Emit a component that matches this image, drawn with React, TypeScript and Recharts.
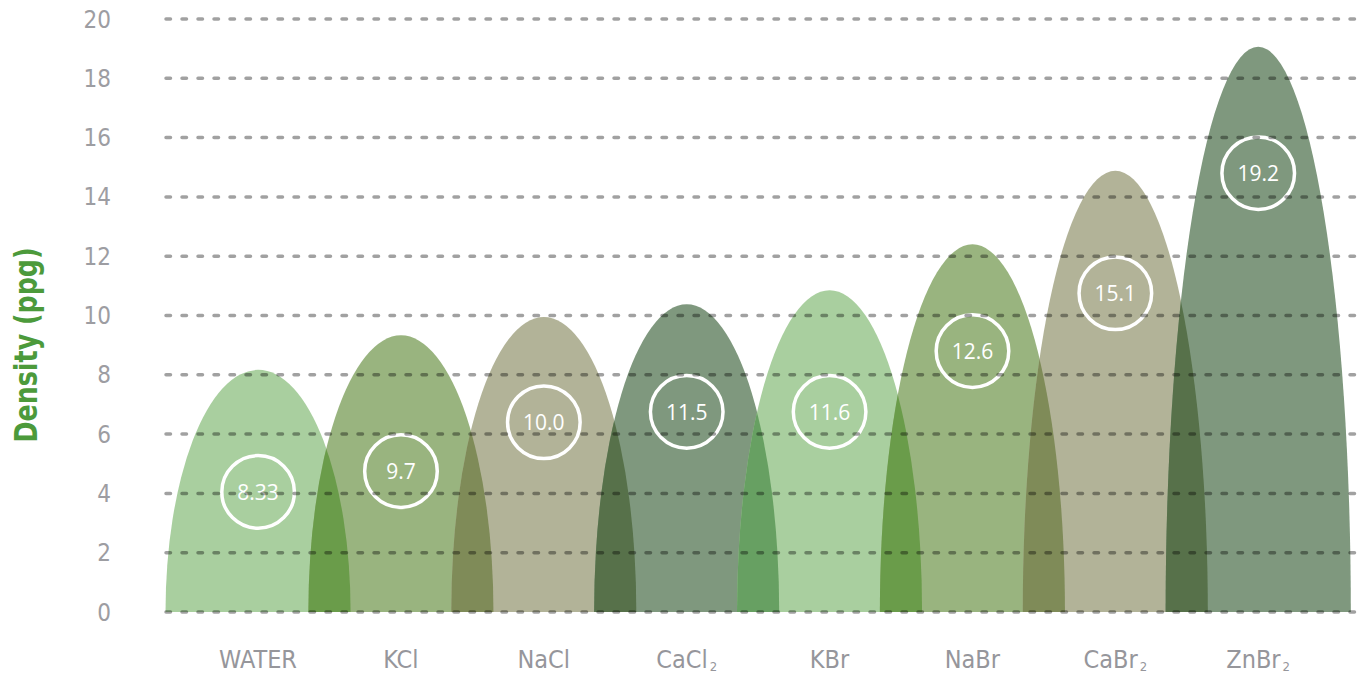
import React from 'react';
import { BarChart, Bar, XAxis, YAxis, ReferenceLine } from 'recharts';

const categories = ['WATER', 'KCl', 'NaCl', 'CaCl2', 'KBr', 'NaBr', 'CaBr2', 'ZnBr2'];
const tickMain = ['WATER', 'KCl', 'NaCl', 'CaCl', 'KBr', 'NaBr', 'CaBr', 'ZnBr'];
const tickSub = ['', '', '', '2', '', '', '2', '2'];
const archHeights = [8.17, 9.33, 9.95, 10.38, 10.85, 12.4, 14.88, 19.06];
const densityLabels = ['8.33', '9.7', '10.0', '11.5', '11.6', '12.6', '15.1', '19.2'];
const labelLevels = [4.05, 4.75, 6.4, 6.75, 6.75, 8.8, 10.75, 14.8];
const yTicks = [0, 2, 4, 6, 8, 10, 12, 14, 16, 18, 20];

const fills = ['#a9cf9f', '#99b47f', '#b2b398', '#7f987e', '#a9cf9f', '#99b47f', '#b2b398', '#7f987e'];
const overlapFills = ['', '#6a9c4a', '#7f8b58', '#57714a', '#67a062', '#6a9c4a', '#7f8b58', '#57714a'];

const data = categories.map((name, i) => ({
  name,
  h: archHeights[i],
  prevH: i > 0 ? archHeights[i - 1] : 0,
  label: densityLabels[i],
  at: labelLevels[i],
  main: tickMain[i],
  sub: tickSub[i],
}));

const Arch = (props: any) => {
  const { x, y, width, height, index, payload } = props;
  const cx = x + width / 2;
  const base = y + height;
  const ppu = height / payload.h;
  const a = width * 0.6475;
  const arc = (c: number, h: number) => `M${c - a},${base} A${a},${h} 0 0 1 ${c + a},${base} Z`;
  const clipId = `arch-clip-${index}`;
  const cy = base - payload.at * ppu;
  return (
    <g>
      <path d={arc(cx, height)} fill={fills[index]} />
      {index > 0 && (
        <>
          <defs>
            <clipPath id={clipId}>
              <path d={arc(cx - width, payload.prevH * ppu)} />
            </clipPath>
          </defs>
          <path d={arc(cx, height)} fill={overlapFills[index]} clipPath={`url(#${clipId})`} />
        </>
      )}
      <circle cx={cx} cy={cy} r={36.3} fill="none" stroke="#ffffff" strokeWidth={3.5} />
      <text
        x={cx}
        y={cy}
        fill="#ffffff"
        fontSize={21}
        fontFamily="'Open Sans', sans-serif"
        textAnchor="middle"
        dominantBaseline="central"
      >
        {payload.label}
      </text>
    </g>
  );
};

const XTick = (props: any) => {
  const { x, y, index } = props;
  const d = data[index];
  return (
    <text
      x={x}
      y={y + 54}
      textAnchor="middle"
      fill="#96969b"
      fontSize={25}
      fontFamily="'DejaVu Sans Condensed', sans-serif"
    >
      {d.main}
      {d.sub && (
        <tspan fontSize={13} dx={2} dy={3}>
          {d.sub}
        </tspan>
      )}
    </text>
  );
};

const YTitle = () => (
  <g transform="translate(37,345) rotate(-90) scale(0.88,1)">
    <text
      x={0}
      y={0}
      textAnchor="middle"
      fill="#4c9a3b"
      fontSize={32}
      fontWeight="bold"
      fontFamily="'DejaVu Sans Condensed', sans-serif"
    >
      Density (ppg)
    </text>
  </g>
);

export default function App() {
  return (
    <div style={{ position: 'absolute', left: 0, top: 0, background: '#fff' }}>
      <BarChart
        width={1367}
        height={674}
        data={data}
        margin={{ top: 19, right: 7, left: 0, bottom: 0 }}
        barCategoryGap={0}
      >
        <XAxis
          dataKey="name"
          axisLine={false}
          tickLine={false}
          tickSize={0}
          height={62}
          interval={0}
          padding={{ left: 20.6, right: 30.4 }}
          tick={<XTick />}
        />
        <YAxis
          width={166}
          domain={[0, 20]}
          ticks={yTicks}
          axisLine={false}
          tickLine={false}
          tickSize={0}
          tickMargin={55}
          tick={{ fill: '#9d9da2', fontSize: 24, fontFamily: "'DejaVu Sans Condensed', sans-serif" }}
          label={{ content: () => <YTitle /> }}
        />
        <Bar dataKey="h" shape={<Arch />} isAnimationActive={false} />
        {yTicks.map((t) => (
          <ReferenceLine
            key={t}
            y={t}
            stroke="#000000"
            strokeOpacity={0.37}
            strokeWidth={3.5}
            strokeDasharray="4.5 11.5"
            strokeLinecap="round"
          />
        ))}
      </BarChart>
    </div>
  );
}
